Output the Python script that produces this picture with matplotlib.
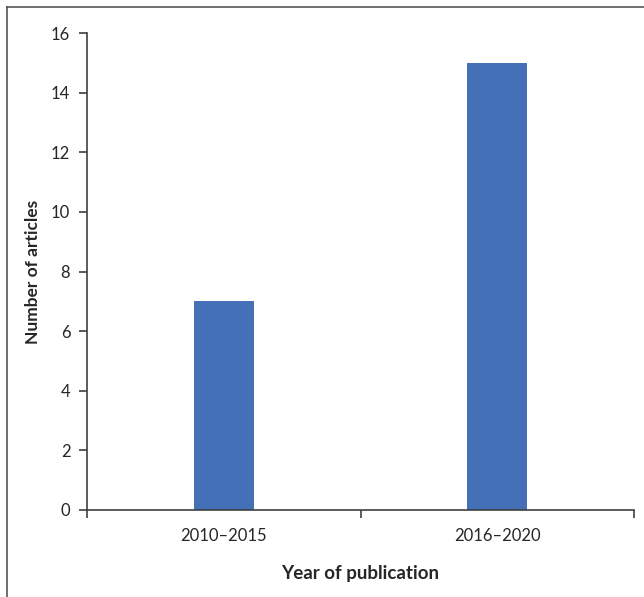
import matplotlib
matplotlib.use("Agg")
import matplotlib.pyplot as plt
from matplotlib.lines import Line2D

plt.rcParams['font.family'] = ['Lato', 'DejaVu Sans']

# article counts per publication period
periods = ['2010\u20132015', '2016\u20132020']
articles = [7, 15]

bar_color = '#4470B8'
text_color = '#262626'
axis_color = '#404040'

fig = plt.figure(figsize=(6.44, 5.97), dpi=100)
ax = fig.add_axes([87 / 644, 87 / 597, 547 / 644, 477 / 597])

x = list(range(len(periods)))
ax.bar(x, articles, width=0.22, color=bar_color, zorder=2)

ax.set_xlim(-0.5, len(periods) - 0.5)
ax.set_ylim(0, 16)
ax.set_yticks(range(0, 17, 2))

# category ticks sit at the boundaries between groups
ax.set_xticks([i - 0.5 for i in range(len(periods) + 1)])
ax.set_xticklabels([])
ax.set_xticks(x, minor=True)
ax.set_xticklabels(periods, minor=True)
ax.tick_params(axis='x', which='minor', length=0, pad=13, labelsize=12, labelcolor=text_color)
ax.tick_params(axis='x', which='major', length=6, width=1.2, color=axis_color, direction='out')
ax.tick_params(axis='y', length=6, width=1.2, color=axis_color, direction='out', pad=6,
               labelsize=12, labelcolor=text_color)

for side in ['top', 'right']:
    ax.spines[side].set_visible(False)
for side in ['left', 'bottom']:
    ax.spines[side].set_color(axis_color)
    ax.spines[side].set_linewidth(1.2)

ax.set_ylabel('Number of articles', fontsize=12.5, fontweight='bold', color=text_color, labelpad=7)
ax.set_xlabel('Year of publication', fontsize=13.5, fontweight='bold', color=text_color, labelpad=15)

# frame line along the left and top of the figure
fig.add_artist(Line2D([6.5 / 644, 6.5 / 644], [0, 1 - 6.5 / 597], transform=fig.transFigure,
                      color='#555555', linewidth=1.2))
fig.add_artist(Line2D([6.5 / 644, 1], [1 - 6.5 / 597, 1 - 6.5 / 597], transform=fig.transFigure,
                      color='#555555', linewidth=1.2))

fig.savefig('out.png', dpi=100)
